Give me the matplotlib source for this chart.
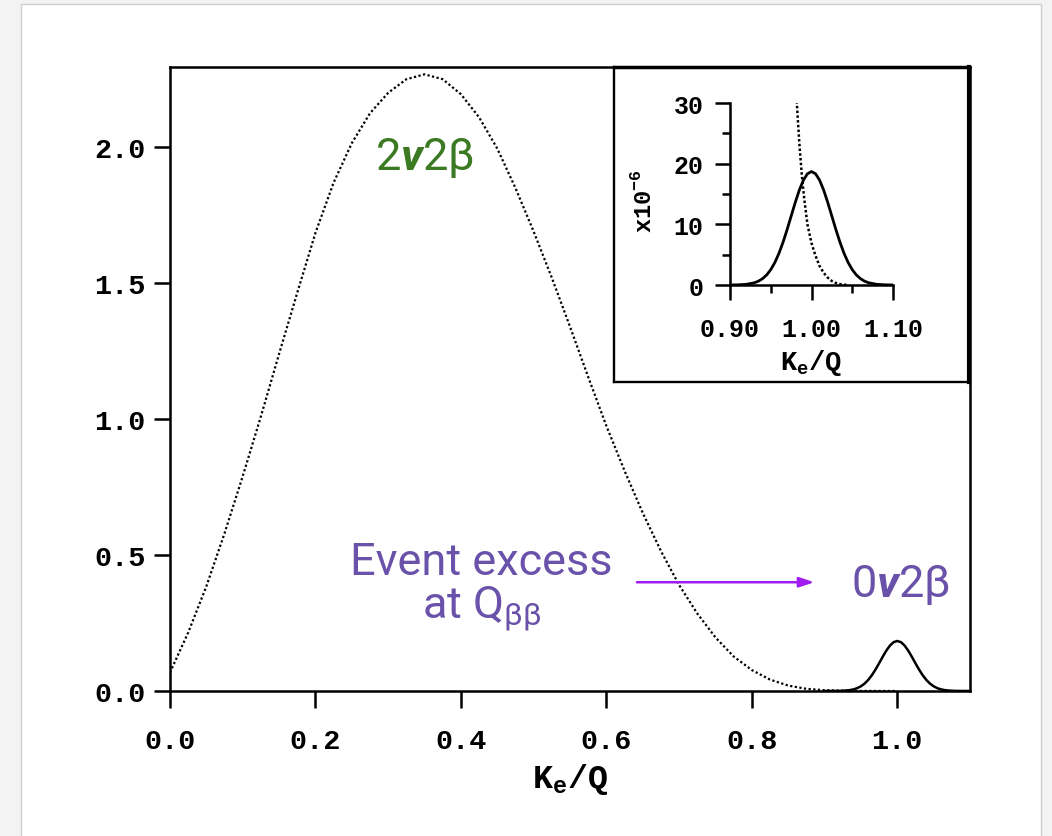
import matplotlib
matplotlib.use("Agg")
import matplotlib.pyplot as plt
from matplotlib.patches import Rectangle

plt.rcParams['mathtext.fontset'] = 'custom'
plt.rcParams['mathtext.rm'] = 'Roboto'
plt.rcParams['mathtext.bf'] = 'Liberation Mono:bold'
plt.rcParams['mathtext.bfit'] = 'Roboto:italic:bold'

# Two-neutrino summed electron spectrum (dotted curve), K_e/Q vs rate
ke_2nu = [0.000, 0.025, 0.050, 0.075, 0.100, 0.125, 0.150, 0.175, 0.200,
          0.225, 0.250, 0.275, 0.300, 0.325, 0.350, 0.375, 0.400, 0.425,
          0.450, 0.475, 0.500, 0.525, 0.550, 0.575, 0.600, 0.625, 0.650,
          0.675, 0.700, 0.725, 0.750, 0.775, 0.800, 0.825, 0.850, 0.875,
          0.900, 0.925, 0.950, 0.975, 1.000]
rate_2nu = [0.068, 0.215, 0.385, 0.580, 0.790, 1.010, 1.240, 1.465, 1.685,
            1.870, 2.015, 2.125, 2.200, 2.250, 2.268, 2.250, 2.195, 2.110,
            1.995, 1.850, 1.690, 1.520, 1.340, 1.155, 0.975, 0.810, 0.655,
            0.515, 0.390, 0.285, 0.197, 0.127, 0.077, 0.042, 0.020, 0.008,
            0.003, 0.001, 0.0003, 0.0001, 0.0]

# Neutrinoless peak at Q (solid curve, main panel)
ke_0nu = [0.900, 0.910, 0.920, 0.930, 0.935, 0.940, 0.945, 0.950, 0.955,
          0.960, 0.965, 0.970, 0.975, 0.980, 0.985, 0.990, 0.995, 1.000,
          1.005, 1.010, 1.015, 1.020, 1.025, 1.030, 1.035, 1.040, 1.045,
          1.050, 1.055, 1.060, 1.065, 1.070, 1.080, 1.090, 1.100]
rate_0nu = [0.0000, 0.0001, 0.0004, 0.0018, 0.0034, 0.0061, 0.0105, 0.0173,
            0.0271, 0.0406, 0.0578, 0.0786, 0.1019, 0.1261, 0.1487, 0.1674,
            0.1797, 0.1840, 0.1797, 0.1674, 0.1487, 0.1261, 0.1019, 0.0786,
            0.0578, 0.0406, 0.0271, 0.0173, 0.0105, 0.0061, 0.0034, 0.0018,
            0.0004, 0.0001, 0.0000]

# Zoom on the endpoint region, rates in units of 1e-6
inset_ke_2nu = [0.980, 0.982, 0.985, 0.988, 0.991, 0.995, 1.000, 1.005,
                1.010, 1.015, 1.020, 1.025, 1.030, 1.035, 1.040, 1.045]
inset_rate_2nu = [35.0, 30.0, 23.5, 18.3, 14.3, 10.0, 6.9, 4.8,
                  3.1, 2.0, 1.2, 0.65, 0.33, 0.15, 0.05, 0.01]
inset_ke_0nu = [0.900, 0.910, 0.920, 0.930, 0.935, 0.940, 0.945, 0.950,
                0.955, 0.960, 0.965, 0.970, 0.975, 0.980, 0.985, 0.990,
                0.995, 1.000, 1.005, 1.010, 1.015, 1.020, 1.025, 1.030,
                1.035, 1.040, 1.045, 1.050, 1.055, 1.060, 1.065, 1.070,
                1.080, 1.090, 1.100]
inset_rate_0nu = [0.01, 0.03, 0.11, 0.37, 0.64, 1.05, 1.66, 2.53,
                  3.70, 5.20, 7.02, 9.10, 11.34, 13.58, 15.62, 17.26,
                  18.33, 18.70, 18.33, 17.26, 15.62, 13.58, 11.34, 9.10,
                  7.02, 5.20, 3.70, 2.53, 1.66, 1.05, 0.64, 0.37,
                  0.11, 0.03, 0.01]

main_xticks = [0.0, 0.2, 0.4, 0.6, 0.8, 1.0]
main_yticks = [0.0, 0.5, 1.0, 1.5, 2.0]
inset_xticks = [0.90, 1.00, 1.10]
inset_xminor = [0.95, 1.05]
inset_yticks = [0, 10, 20, 30]
inset_yminor = [5, 15, 25]

MONO = 'Liberation Mono'
GREEN = '#3b7a22'
PURPLE = '#6a52aa'
ARROW = '#a21ef0'

W, H = 1052, 837
fig = plt.figure(figsize=(W / 100, H / 100), dpi=100, facecolor='#f3f3f3')


def px_rect(x0, y0, x1, y1):
    return [x0 / W, 1 - y1 / H, (x1 - x0) / W, (y1 - y0) / H]


# white card behind the chart
card = Rectangle((21 / W, -0.01), (1041 - 21) / W, 1 - 5 / H + 0.01,
                 transform=fig.transFigure, facecolor='white',
                 edgecolor='#cfcfcf', lw=1.0, zorder=-10)
fig.patches.append(card)

ax = fig.add_axes(px_rect(170, 68, 970, 692))
ax.plot(ke_2nu, rate_2nu, color='black', lw=1.6, linestyle=(0, (1, 1.1)))
ax.plot(ke_0nu, rate_0nu, color='black', lw=1.8, solid_capstyle='butt')
ax.set_xlim(0, 1.1)
ax.set_ylim(0, 2.295)
ax.set_xticks(main_xticks)
ax.set_xticklabels([f'{v:.1f}' for v in main_xticks])
ax.set_yticks(main_yticks)
ax.set_yticklabels([f'{v:.1f}' for v in main_yticks])
ax.tick_params(axis='y', direction='out', length=11.5, width=1.8,
               labelsize=20.5, pad=6)
ax.tick_params(axis='x', direction='out', length=12.5, width=1.8,
               labelsize=20.5, pad=14)
for lab in ax.get_xticklabels() + ax.get_yticklabels():
    lab.set_fontfamily(MONO)
    lab.set_fontweight('bold')
for sp in ax.spines.values():
    sp.set_linewidth(1.8)
ax.set_xlabel(r'K$_\mathbf{e}$/Q', fontfamily=MONO, fontweight='bold',
              fontsize=24, labelpad=5)

ax.text(0.350, 1.919, r'2$\mathbfit{v}$2β', color=GREEN, fontfamily='Roboto',
        fontsize=32.5, ha='center', va='baseline')
ax.text(0.4285, 0.430, 'Event excess', color=PURPLE, fontfamily='Roboto',
        fontsize=32.5, ha='center', va='baseline')
ax.text(0.4285, 0.272, r'at Q$_\mathrm{ββ}$', color=PURPLE,
        fontfamily='Roboto', fontsize=32.5, ha='center', va='baseline')
ax.text(1.004, 0.350, r'0$\mathbfit{v}$2β', color=PURPLE, fontfamily='Roboto',
        fontsize=32.5, ha='center', va='baseline')
ax.annotate('', xy=(0.886, 0.40), xytext=(0.642, 0.40),
            arrowprops=dict(arrowstyle='-|>,head_length=0.9,head_width=0.3',
                            color=ARROW, lw=1.8, shrinkA=0, shrinkB=0))

# framed inset panel
frame = fig.add_axes(px_rect(614, 68, 969, 383))
frame.set_xticks([])
frame.set_yticks([])
for sp in frame.spines.values():
    sp.set_linewidth(1.7)
frame.spines['right'].set_linewidth(3.0)
frame.spines['top'].set_linewidth(2.5)

ins = fig.add_axes(px_rect(730, 104, 893, 286))
ins.plot(inset_ke_2nu, inset_rate_2nu, color='black', lw=1.8,
         linestyle=(0, (1, 0.9)))
ins.plot(inset_ke_0nu, inset_rate_0nu, color='black', lw=2.0)
ins.set_xlim(0.9, 1.1)
ins.set_ylim(0, 30)
ins.set_xticks(inset_xticks)
ins.set_xticklabels([f'{v:.2f}' for v in inset_xticks])
ins.set_xticks(inset_xminor, minor=True)
ins.set_yticks(inset_yticks)
ins.set_yticks(inset_yminor, minor=True)
ins.spines['top'].set_visible(False)
ins.spines['right'].set_visible(False)
for sp in ('left', 'bottom'):
    ins.spines[sp].set_linewidth(1.8)
ins.tick_params(which='major', direction='out', length=11, width=1.8,
                labelsize=18, pad=8)
ins.tick_params(axis='x', which='major', pad=12)
ins.tick_params(which='minor', direction='out', length=6, width=1.8)
for lab in ins.get_xticklabels() + ins.get_yticklabels():
    lab.set_fontfamily(MONO)
    lab.set_fontweight('bold')
ins.set_xlabel(r'K$_\mathbf{e}$/Q', fontfamily=MONO, fontweight='bold',
               fontsize=19.5, labelpad=4)
ins.set_ylabel(r'x10$^{\mathbf{-6}}$', fontfamily=MONO, fontweight='bold',
               fontsize=17)
ins.yaxis.set_label_coords(-0.455, 0.467)

fig.savefig('out.png', dpi=100, facecolor=fig.get_facecolor())
